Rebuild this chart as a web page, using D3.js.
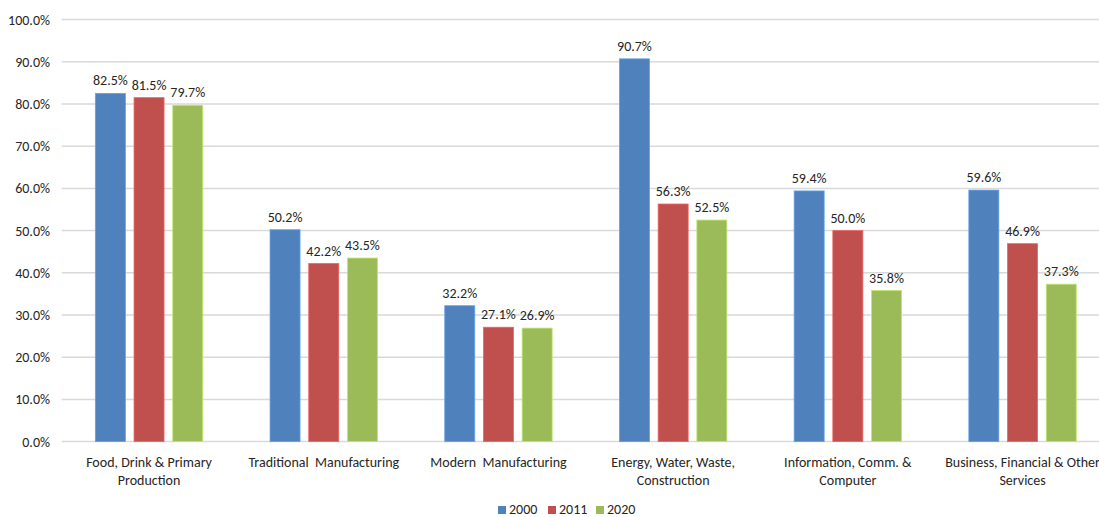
<!DOCTYPE html>
<html>
<head>
<meta charset="utf-8">
<script src="https://cdn.jsdelivr.net/npm/d3@7"></script>
<style>
  html, body { margin: 0; padding: 0; background: #fff; }
  svg { display: block; font-family: Carlito, Calibri, Lato, "Open Sans", sans-serif; }
  svg text { white-space: pre; }
</style>
</head>
<body>
<svg id="chart" width="1099" height="517"></svg>
<script>
// Sector categories (two-line labels split on "|")
const categories = [
  "Food, Drink & Primary|Production",
  "Traditional  Manufacturing",
  "Modern  Manufacturing",
  "Energy, Water, Waste,|Construction",
  "Information, Comm. &|Computer",
  "Business, Financial & Other|Services"
];
const seriesNames = ["2000", "2011", "2020"];
const values2000 = [82.5, 50.2, 32.2, 90.7, 59.4, 59.6];
const values2011 = [81.5, 42.2, 27.1, 56.3, 50.0, 46.9];
const values2020 = [79.7, 43.5, 26.9, 52.5, 35.8, 37.3];
const yTicks = [0, 10, 20, 30, 40, 50, 60, 70, 80, 90, 100];
const colors = ["#4F81BD", "#C0504D", "#9BBB59"];

const series = [values2000, values2011, values2020];

const svg = d3.select("#chart");
const left = 61.7, plotTop = 19.6, plotBottom = 441.6;
const band = 174.7;
const textColor = "#262626";
const fontSize = 14;

const x = d3.scaleBand()
  .domain(categories)
  .range([left, left + band * categories.length])
  .paddingInner(0).paddingOuter(0);

const y = d3.scaleLinear().domain([0, 100]).range([plotBottom, plotTop]);

// gridlines
svg.append("g")
  .selectAll("line")
  .data(yTicks)
  .join("line")
  .attr("x1", left)
  .attr("x2", 1099)
  .attr("y1", d => y(d))
  .attr("y2", d => y(d))
  .attr("stroke", "#d9d9d9")
  .attr("stroke-width", 1.5);

// y-axis labels
svg.append("g")
  .selectAll("text")
  .data(yTicks)
  .join("text")
  .attr("x", 50)
  .attr("y", d => y(d))
  .attr("dy", "0.35em")
  .attr("text-anchor", "end")
  .attr("font-size", fontSize)
  .attr("fill", textColor)
  .text(d => d.toFixed(1) + "%");

// bars
const barW = 30, step = 38.7;
const offsets = seriesNames.map((s, i) => (i - 1) * step);

const groups = svg.append("g")
  .selectAll("g")
  .data(categories)
  .join("g")
  .attr("transform", d => `translate(${x(d) + x.bandwidth() / 2},0)`);

groups.each(function(cat, ci) {
  const g = d3.select(this);
  series.forEach((vals, si) => {
    const v = vals[ci];
    g.append("rect")
      .attr("x", offsets[si] - barW / 2)
      .attr("y", y(v))
      .attr("width", barW)
      .attr("height", y(0) - y(v))
      .attr("fill", colors[si])
      .attr("stroke", d3.color(colors[si]).brighter(0.6))
      .attr("stroke-width", 0.8);
    g.append("text")
      .attr("x", offsets[si])
      .attr("y", y(v) - 8)
      .attr("text-anchor", "middle")
      .attr("font-size", fontSize)
      .attr("fill", textColor)
      .text(v.toFixed(1) + "%");
  });
});

// category labels
groups.append("text")
  .attr("text-anchor", "middle")
  .attr("font-size", fontSize)
  .attr("fill", textColor)
  .selectAll("tspan")
  .data(d => d.split("|"))
  .join("tspan")
  .attr("x", 0)
  .attr("y", (d, i) => 466.5 + i * 18.5)
  .text(d => d);

// legend
const legendX = [498, 548, 596];
const legend = svg.append("g")
  .selectAll("g")
  .data(seriesNames)
  .join("g")
  .attr("transform", (d, i) => `translate(${legendX[i]},0)`);
legend.append("rect")
  .attr("x", 0).attr("y", 506)
  .attr("width", 8).attr("height", 8)
  .attr("fill", (d, i) => colors[i]);
legend.append("text")
  .attr("x", 11).attr("y", 514)
  .attr("font-size", fontSize)
  .attr("fill", textColor)
  .text(d => d);
</script>
</body>
</html>
